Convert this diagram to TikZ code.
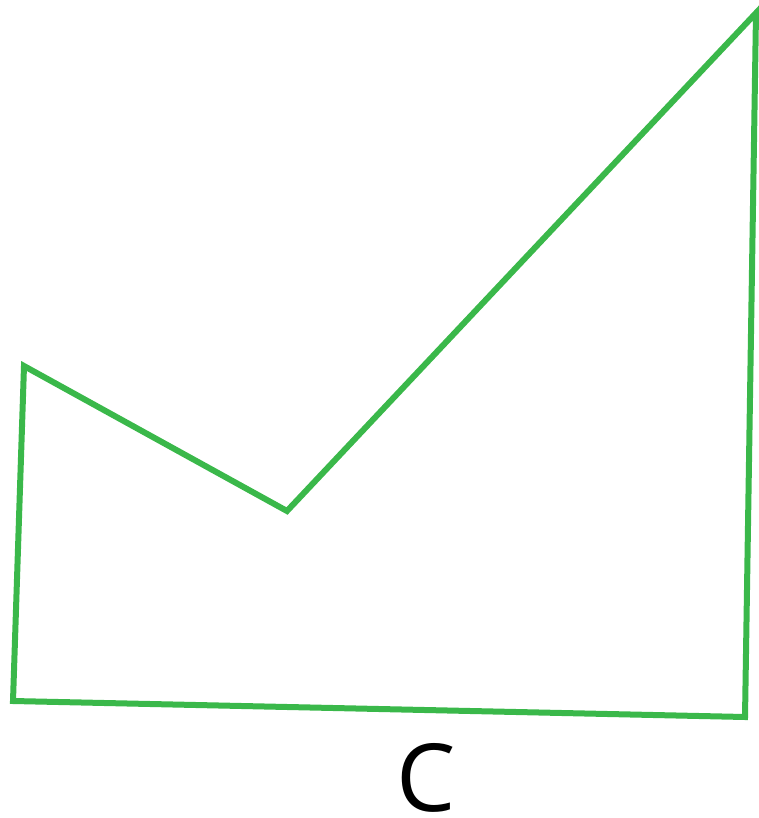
\documentclass[tikz,border=0pt]{standalone}
\usepackage{fontspec}
\setmainfont{Open Sans}
\definecolor{shapegreen}{RGB}{58,184,74}
\begin{document}
\begin{tikzpicture}[x=1pt,y=-1pt,
  outline/.style={draw=shapegreen,line width=6pt,line join=miter},
  lbl/.style={font=\fontsize{94}{94}\selectfont,inner sep=0pt,text=black}]
\useasboundingbox (0,0) rectangle (759,818);
\coordinate (p1) at (13,701);
\coordinate (p2) at (24,366);
\coordinate (p3) at (287,511);
\coordinate (p4) at (756,13);
\coordinate (p5) at (745,717);
\draw[outline] (p1) -- (p2) -- (p3) -- (p4) -- (p5) -- cycle;
\node[lbl] (c) at (426,778) {C};
\end{tikzpicture}
\end{document}
